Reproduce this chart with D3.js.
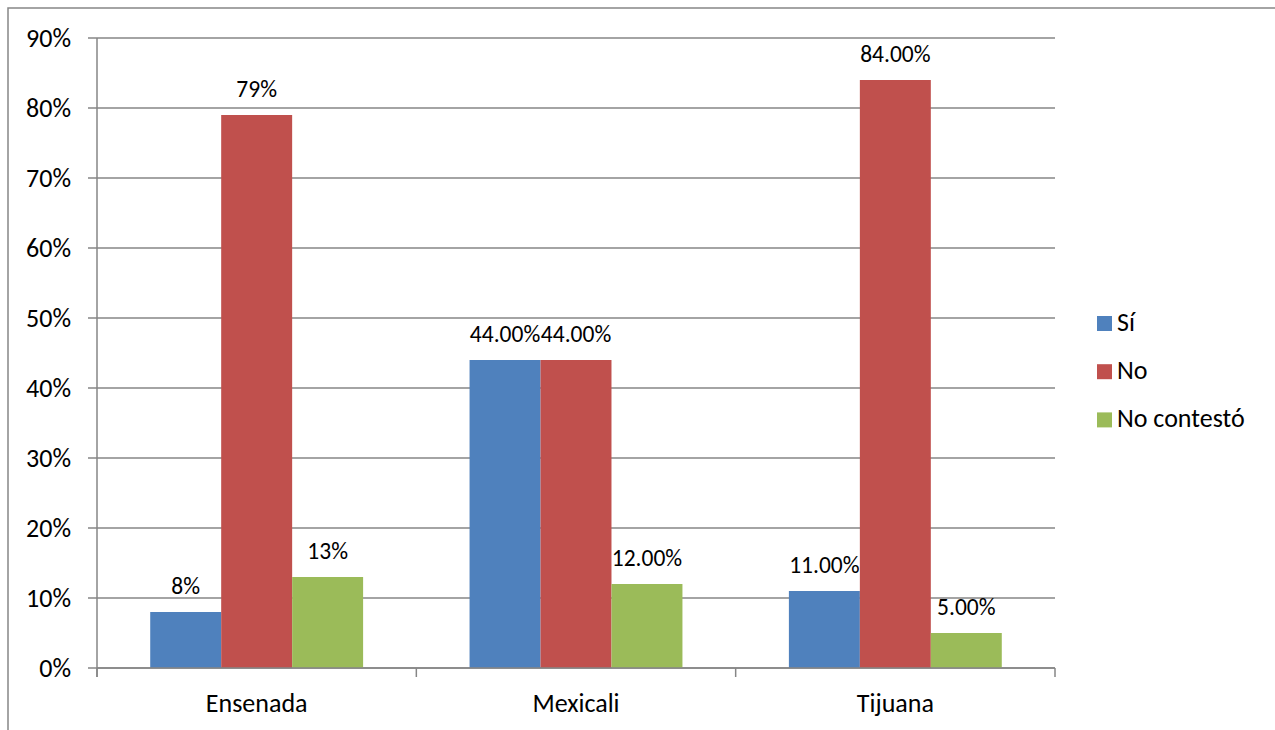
<!DOCTYPE html>
<html><head><meta charset="utf-8">
<script src="https://cdn.jsdelivr.net/npm/d3@7"></script>
<style>body{margin:0;background:#fff;} text{font-family:Carlito,Calibri,"Liberation Sans",sans-serif;fill:#000;}</style>
</head><body>
<svg id="c" width="1275" height="730"></svg>
<script>
const categories = ["Ensenada", "Mexicali", "Tijuana"];
const seriesNames = ["Sí", "No", "No contestó"];
const seriesColors = ["#4F81BD", "#C0504D", "#9BBB59"];
const siValues = [0.08, 0.44, 0.11];
const noValues = [0.79, 0.44, 0.84];
const noContestoValues = [0.13, 0.12, 0.05];
const siLabels = ["8%", "44.00%", "11.00%"];
const noLabels = ["79%", "44.00%", "84.00%"];
const noContestoLabels = ["13%", "12.00%", "5.00%"];
const yTicks = [0, 0.1, 0.2, 0.3, 0.4, 0.5, 0.6, 0.7, 0.8, 0.9];

const series = [
  {name: seriesNames[0], color: seriesColors[0], values: siValues, labels: siLabels},
  {name: seriesNames[1], color: seriesColors[1], values: noValues, labels: noLabels},
  {name: seriesNames[2], color: seriesColors[2], values: noContestoValues, labels: noContestoLabels}
];

const svg = d3.select("#c");
const fs = 26, fsLabel = 23.5;
// outer border
svg.append("rect").attr("x", 8).attr("y", 8).attr("width", 1290).attr("height", 740)
  .attr("fill", "none").attr("stroke", "#868686").attr("stroke-width", 1.5);

const L = 97, R = 1055, T = 38, B = 668;
const x = d3.scaleBand().domain(categories).range([L, R]).paddingInner(0).paddingOuter(0);
const y = d3.scaleLinear().domain([0, 0.9]).range([B, T]);
const barW = x.bandwidth() / (3 + 1.5);
const gap = barW * 0.75;

const gridColor = "#868686";
// gridlines
svg.append("g").selectAll("line").data(yTicks).join("line")
  .attr("x1", L - 9).attr("x2", R).attr("y1", d => y(d)).attr("y2", d => y(d))
  .attr("stroke", gridColor).attr("stroke-width", 1.5);

// y axis
const yAxis = d3.axisLeft(y).tickValues(yTicks).tickFormat(d3.format(".0%")).tickSize(0).tickPadding(26);
const gy = svg.append("g").attr("transform", `translate(${L},0)`).call(yAxis);
gy.select(".domain").remove();
gy.attr("font-family", null);
gy.selectAll("text").attr("font-size", fs).attr("fill", "#000");
svg.append("line").attr("x1", L).attr("x2", L).attr("y1", T).attr("y2", B + 9)
  .attr("stroke", gridColor).attr("stroke-width", 1.5);

// bars
series.forEach((s, si) => {
  const g = svg.append("g");
  g.selectAll("rect").data(categories).join("rect")
    .attr("x", c => x(c) + gap + si * barW)
    .attr("width", barW)
    .attr("y", (c, i) => y(s.values[i]))
    .attr("height", (c, i) => B - y(s.values[i]))
    .attr("fill", s.color);
  g.selectAll("text").data(categories).join("text")
    .attr("x", c => x(c) + gap + si * barW + barW / 2)
    .attr("y", (c, i) => y(s.values[i]) - 18)
    .attr("text-anchor", "middle").attr("font-size", fsLabel)
    .text((c, i) => s.labels[i]);
});

// x axis
svg.append("line").attr("x1", L).attr("x2", R).attr("y1", B).attr("y2", B)
  .attr("stroke", gridColor).attr("stroke-width", 1.5);
const bounds = [L].concat(categories.map(c => x(c) + x.bandwidth()));
svg.append("g").selectAll("line").data(bounds).join("line")
  .attr("x1", d => d).attr("x2", d => d).attr("y1", B).attr("y2", B + 9)
  .attr("stroke", gridColor).attr("stroke-width", 1.5);
svg.append("g").selectAll("text").data(categories).join("text")
  .attr("x", c => x(c) + x.bandwidth() / 2).attr("y", 712)
  .attr("text-anchor", "middle").attr("font-size", fs).text(c => c);

// legend
const lg = svg.append("g");
series.forEach((s, i) => {
  const base = 331 + i * 48.2;
  lg.append("rect").attr("x", 1097).attr("y", base - 15).attr("width", 15).attr("height", 15).attr("fill", s.color);
  lg.append("text").attr("x", 1117).attr("y", base).attr("font-size", fs).text(s.name);
});
</script>
</body></html>
